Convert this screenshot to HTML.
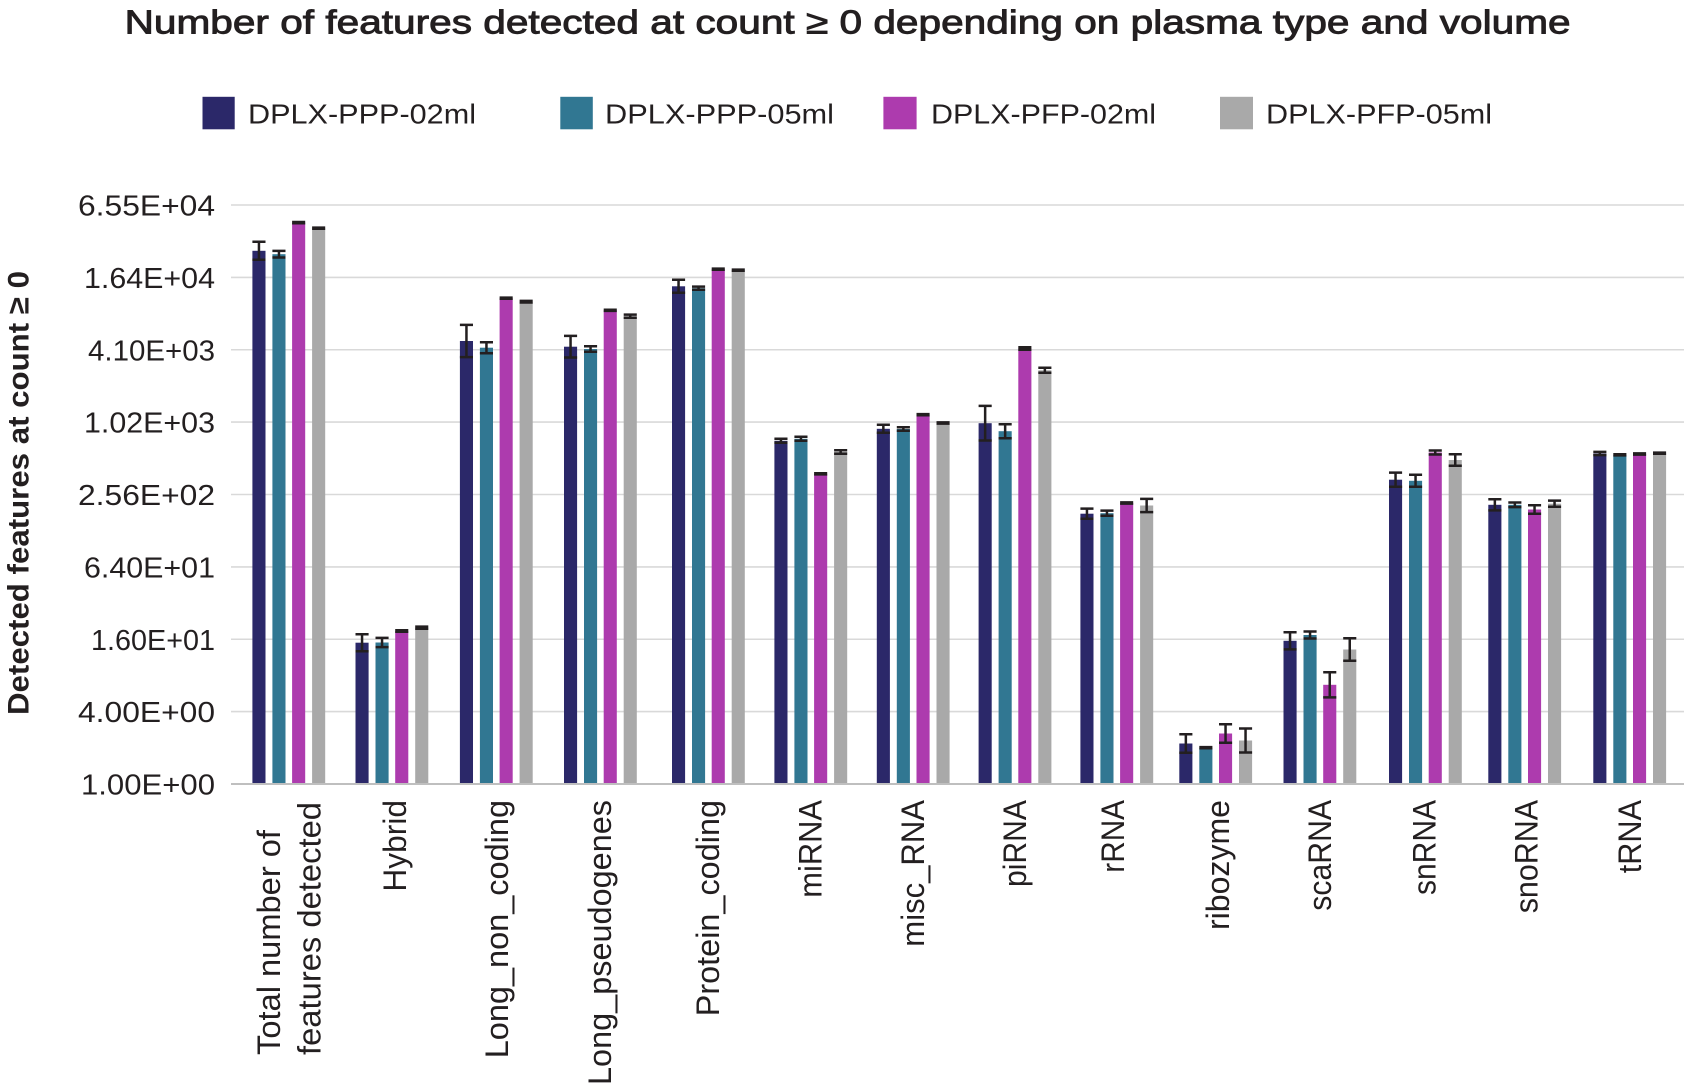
<!DOCTYPE html>
<html><head><meta charset="utf-8"><style>
html,body{margin:0;padding:0;background:#fff;}
svg{display:block;font-family:"Liberation Sans","DejaVu Sans",sans-serif;}
</style></head><body>
<svg width="1684" height="1089" viewBox="0 0 1684 1089" xmlns="http://www.w3.org/2000/svg">
<rect width="1684" height="1089" fill="#fff"/>
<text x="124.6" y="33.3" font-size="33.5" fill="#231f20" stroke="#231f20" stroke-width="0.9" textLength="1446" lengthAdjust="spacingAndGlyphs">Number of features detected at count ≥ 0 depending on plasma type and volume</text>
<g font-size="28" fill="#231f20">
<rect x="202.5" y="96.8" width="32.2" height="32.5" fill="#2b2869"/>
<text x="248" y="123.3" textLength="228" lengthAdjust="spacingAndGlyphs">DPLX-PPP-02ml</text>
<rect x="560.3" y="96.8" width="32.5" height="32.5" fill="#317792"/>
<text x="605" y="123.3" textLength="229" lengthAdjust="spacingAndGlyphs">DPLX-PPP-05ml</text>
<rect x="883.4" y="96.8" width="33.2" height="32.5" fill="#ad3bae"/>
<text x="931" y="123.3" textLength="225" lengthAdjust="spacingAndGlyphs">DPLX-PFP-02ml</text>
<rect x="1220" y="96.8" width="33" height="32.5" fill="#a9a9a9"/>
<text x="1266" y="123.3" textLength="226" lengthAdjust="spacingAndGlyphs">DPLX-PFP-05ml</text>
</g>
<g stroke="#d9d9d9" stroke-width="1.6">
<line x1="231" y1="205" x2="1684" y2="205"/>
<line x1="231" y1="277.4" x2="1684" y2="277.4"/>
<line x1="231" y1="349.75" x2="1684" y2="349.75"/>
<line x1="231" y1="422.1" x2="1684" y2="422.1"/>
<line x1="231" y1="494.5" x2="1684" y2="494.5"/>
<line x1="231" y1="566.9" x2="1684" y2="566.9"/>
<line x1="231" y1="639.25" x2="1684" y2="639.25"/>
<line x1="231" y1="711.6" x2="1684" y2="711.6"/>
</g>
<g font-size="29" fill="#231f20" text-anchor="end">
<text x="215" y="215.5" textLength="137" lengthAdjust="spacingAndGlyphs">6.55E+04</text>
<text x="215" y="287.9" textLength="131" lengthAdjust="spacingAndGlyphs">1.64E+04</text>
<text x="215" y="360.25" textLength="127" lengthAdjust="spacingAndGlyphs">4.10E+03</text>
<text x="215" y="432.6" textLength="131" lengthAdjust="spacingAndGlyphs">1.02E+03</text>
<text x="215" y="505" textLength="137" lengthAdjust="spacingAndGlyphs">2.56E+02</text>
<text x="215" y="577.4" textLength="131" lengthAdjust="spacingAndGlyphs">6.40E+01</text>
<text x="215" y="649.75" textLength="124" lengthAdjust="spacingAndGlyphs">1.60E+01</text>
<text x="215" y="722.1" textLength="137" lengthAdjust="spacingAndGlyphs">4.00E+00</text>
<text x="215" y="794.5" textLength="134" lengthAdjust="spacingAndGlyphs">1.00E+00</text>
</g>
<text transform="translate(28.3,493) rotate(-90)" text-anchor="middle" font-size="30" font-weight="bold" fill="#231f20" textLength="444" lengthAdjust="spacingAndGlyphs">Detected features at count ≥ 0</text>
<g fill="#2b2869">
<rect x="252.4" y="250.8" width="13.1" height="533.2"/>
<rect x="355.5" y="642.7" width="13.1" height="141.3"/>
<rect x="459.9" y="341" width="13.1" height="443"/>
<rect x="564" y="346.7" width="13.1" height="437.3"/>
<rect x="672" y="286.3" width="13.1" height="497.7"/>
<rect x="774.4" y="440.8" width="13.1" height="343.2"/>
<rect x="876.8" y="428.8" width="13.1" height="355.2"/>
<rect x="978.6" y="423.2" width="13.1" height="360.8"/>
<rect x="1080.4" y="513.7" width="13.1" height="270.3"/>
<rect x="1179.3" y="743.5" width="13.1" height="40.5"/>
<rect x="1283.5" y="640.8" width="13.1" height="143.2"/>
<rect x="1389" y="479.7" width="13.1" height="304.3"/>
<rect x="1488.3" y="504.8" width="13.1" height="279.2"/>
<rect x="1593.3" y="453.5" width="13.1" height="330.5"/>
</g>
<g fill="#317792">
<rect x="272.4" y="254.2" width="13.1" height="529.8"/>
<rect x="375.5" y="642.5" width="13.1" height="141.5"/>
<rect x="479.9" y="347.7" width="13.1" height="436.3"/>
<rect x="584" y="349" width="13.1" height="435"/>
<rect x="692" y="288.2" width="13.1" height="495.8"/>
<rect x="794.4" y="438.8" width="13.1" height="345.2"/>
<rect x="896.8" y="429" width="13.1" height="355"/>
<rect x="998.6" y="431.2" width="13.1" height="352.8"/>
<rect x="1100.4" y="513.2" width="13.1" height="270.8"/>
<rect x="1199.3" y="747.7" width="13.1" height="36.3"/>
<rect x="1303.5" y="635" width="13.1" height="149"/>
<rect x="1409" y="480.8" width="13.1" height="303.2"/>
<rect x="1508.3" y="504.8" width="13.1" height="279.2"/>
<rect x="1613.3" y="454.8" width="13.1" height="329.2"/>
</g>
<g fill="#ad3bae">
<rect x="292.1" y="222.6" width="13.1" height="561.4"/>
<rect x="395.2" y="631" width="13.1" height="153"/>
<rect x="499.6" y="298.2" width="13.1" height="485.8"/>
<rect x="603.7" y="310.3" width="13.1" height="473.7"/>
<rect x="711.7" y="269.2" width="13.1" height="514.8"/>
<rect x="814.1" y="473.8" width="13.1" height="310.2"/>
<rect x="916.5" y="414.7" width="13.1" height="369.3"/>
<rect x="1018.3" y="348.5" width="13.1" height="435.5"/>
<rect x="1120.1" y="503" width="13.1" height="281"/>
<rect x="1219" y="733.5" width="13.1" height="50.5"/>
<rect x="1323.2" y="684.8" width="13.1" height="99.2"/>
<rect x="1428.7" y="452.5" width="13.1" height="331.5"/>
<rect x="1528" y="509.5" width="13.1" height="274.5"/>
<rect x="1633" y="454" width="13.1" height="330"/>
</g>
<g fill="#a9a9a9">
<rect x="312.1" y="228.2" width="13.1" height="555.8"/>
<rect x="415.2" y="627.7" width="13.1" height="156.3"/>
<rect x="519.6" y="301.7" width="13.1" height="482.3"/>
<rect x="623.7" y="316.2" width="13.1" height="467.8"/>
<rect x="731.7" y="270.2" width="13.1" height="513.8"/>
<rect x="834.1" y="452" width="13.1" height="332"/>
<rect x="936.5" y="423" width="13.1" height="361"/>
<rect x="1038.3" y="370.3" width="13.1" height="413.7"/>
<rect x="1140.1" y="505.5" width="13.1" height="278.5"/>
<rect x="1239" y="740.5" width="13.1" height="43.5"/>
<rect x="1343.2" y="649.5" width="13.1" height="134.5"/>
<rect x="1448.7" y="460" width="13.1" height="324"/>
<rect x="1548" y="503.7" width="13.1" height="280.3"/>
<rect x="1653" y="453.2" width="13.1" height="330.8"/>
</g>
<g stroke="#231f20" stroke-width="2.5" fill="none">
<path d="M252.4 241.8h13.1M252.4 259.8h13.1M258.95 241.8V259.8"/>
<path d="M355.5 634.2h13.1M355.5 651.2h13.1M362.05 634.2V651.2"/>
<path d="M459.9 324.9h13.1M459.9 357.1h13.1M466.45 324.9V357.1"/>
<path d="M564 335.9h13.1M564 357.5h13.1M570.55 335.9V357.5"/>
<path d="M672 279.8h13.1M672 292.8h13.1M678.55 279.8V292.8"/>
<path d="M774.4 438.8h13.1M774.4 442.8h13.1M780.95 438.8V442.8"/>
<path d="M876.8 424.8h13.1M876.8 432.8h13.1M883.35 424.8V432.8"/>
<path d="M978.6 405.9h13.1M978.6 440.5h13.1M985.15 405.9V440.5"/>
<path d="M1080.4 508.6h13.1M1080.4 518.8h13.1M1086.95 508.6V518.8"/>
<path d="M1179.3 734.2h13.1M1179.3 752.8h13.1M1185.85 734.2V752.8"/>
<path d="M1283.5 632.2h13.1M1283.5 649.4h13.1M1290.05 632.2V649.4"/>
<path d="M1389 472.6h13.1M1389 486.8h13.1M1395.55 472.6V486.8"/>
<path d="M1488.3 499.2h13.1M1488.3 510.4h13.1M1494.85 499.2V510.4"/>
<path d="M1593.3 451.9h13.1M1593.3 455.1h13.1M1599.85 451.9V455.1"/>

<path d="M272.4 250.9h13.1M272.4 257.5h13.1M278.95 250.9V257.5"/>
<path d="M375.5 637.9h13.1M375.5 647.1h13.1M382.05 637.9V647.1"/>
<path d="M479.9 342.2h13.1M479.9 353.2h13.1M486.45 342.2V353.2"/>
<path d="M584 346.2h13.1M584 351.8h13.1M590.55 346.2V351.8"/>
<path d="M692 286.6h13.1M692 289.8h13.1M698.55 286.6V289.8"/>
<path d="M794.4 436.8h13.1M794.4 440.8h13.1M800.95 436.8V440.8"/>
<path d="M896.8 427.2h13.1M896.8 430.8h13.1M903.35 427.2V430.8"/>
<path d="M998.6 424.2h13.1M998.6 438.2h13.1M1005.15 424.2V438.2"/>
<path d="M1100.4 510.6h13.1M1100.4 515.8h13.1M1106.95 510.6V515.8"/>
<path d="M1199.3 747.1h13.1M1199.3 748.3h13.1M1205.85 747.1V748.3"/>
<path d="M1303.5 631.5h13.1M1303.5 638.5h13.1M1310.05 631.5V638.5"/>
<path d="M1409 474.8h13.1M1409 486.8h13.1M1415.55 474.8V486.8"/>
<path d="M1508.3 502.5h13.1M1508.3 507.1h13.1M1514.85 502.5V507.1"/>
<path d="M1613.3 454.2h13.1M1613.3 455.4h13.1M1619.85 454.2V455.4"/>

<path d="M292.1 222h13.1M292.1 223.2h13.1M298.65 222V223.2"/>
<path d="M395.2 630.2h13.1M395.2 631.8h13.1M401.75 630.2V631.8"/>
<path d="M499.6 297.6h13.1M499.6 298.8h13.1M506.15 297.6V298.8"/>
<path d="M603.7 309.7h13.1M603.7 310.9h13.1M610.25 309.7V310.9"/>
<path d="M711.7 268.6h13.1M711.7 269.8h13.1M718.25 268.6V269.8"/>
<path d="M814.1 473.2h13.1M814.1 474.4h13.1M820.65 473.2V474.4"/>
<path d="M916.5 414.1h13.1M916.5 415.3h13.1M923.05 414.1V415.3"/>
<path d="M1018.3 347.2h13.1M1018.3 349.8h13.1M1024.85 347.2V349.8"/>
<path d="M1120.1 502.4h13.1M1120.1 503.6h13.1M1126.65 502.4V503.6"/>
<path d="M1219 724.2h13.1M1219 742.8h13.1M1225.55 724.2V742.8"/>
<path d="M1323.2 672.2h13.1M1323.2 697.4h13.1M1329.75 672.2V697.4"/>
<path d="M1428.7 450.5h13.1M1428.7 454.5h13.1M1435.25 450.5V454.5"/>
<path d="M1528 505.2h13.1M1528 513.8h13.1M1534.55 505.2V513.8"/>
<path d="M1633 453.4h13.1M1633 454.6h13.1M1639.55 453.4V454.6"/>

<path d="M312.1 227.6h13.1M312.1 228.8h13.1M318.65 227.6V228.8"/>
<path d="M415.2 626.6h13.1M415.2 628.8h13.1M421.75 626.6V628.8"/>
<path d="M519.6 300.9h13.1M519.6 302.5h13.1M526.15 300.9V302.5"/>
<path d="M623.7 314.6h13.1M623.7 317.8h13.1M630.25 314.6V317.8"/>
<path d="M731.7 269.6h13.1M731.7 270.8h13.1M738.25 269.6V270.8"/>
<path d="M834.1 450.2h13.1M834.1 453.8h13.1M840.65 450.2V453.8"/>
<path d="M936.5 422.4h13.1M936.5 423.6h13.1M943.05 422.4V423.6"/>
<path d="M1038.3 367.8h13.1M1038.3 372.8h13.1M1044.85 367.8V372.8"/>
<path d="M1140.1 498.9h13.1M1140.1 512.1h13.1M1146.65 498.9V512.1"/>
<path d="M1239 728.5h13.1M1239 752.5h13.1M1245.55 728.5V752.5"/>
<path d="M1343.2 638.2h13.1M1343.2 660.8h13.1M1349.75 638.2V660.8"/>
<path d="M1448.7 454.2h13.1M1448.7 465.8h13.1M1455.25 454.2V465.8"/>
<path d="M1548 500.6h13.1M1548 506.8h13.1M1554.55 500.6V506.8"/>
<path d="M1653 452.6h13.1M1653 453.8h13.1M1659.55 452.6V453.8"/>
</g>
<line x1="231" y1="784" x2="1684" y2="784" stroke="#bfbfbf" stroke-width="2"/>
<g font-size="32" fill="#231f20">
<text transform="translate(280.2,1055) rotate(-90)" textLength="225" lengthAdjust="spacingAndGlyphs">Total number of</text>
<text transform="translate(320.5,1055) rotate(-90)" textLength="253" lengthAdjust="spacingAndGlyphs">features detected</text>
</g>
<g font-size="32" fill="#231f20" text-anchor="end">
<text transform="translate(406,800) rotate(-90)" textLength="91.6" lengthAdjust="spacingAndGlyphs">Hybrid</text>
<text transform="translate(508,800) rotate(-90)" textLength="258.3" lengthAdjust="spacingAndGlyphs">Long_non_coding</text>
<text transform="translate(611,800) rotate(-90)" textLength="285" lengthAdjust="spacingAndGlyphs">Long_pseudogenes</text>
<text transform="translate(719,800) rotate(-90)" textLength="216.3" lengthAdjust="spacingAndGlyphs">Protein_coding</text>
<text transform="translate(821.7,800) rotate(-90)" textLength="97.7" lengthAdjust="spacingAndGlyphs">miRNA</text>
<text transform="translate(924,800) rotate(-90)" textLength="146.7" lengthAdjust="spacingAndGlyphs">misc_RNA</text>
<text transform="translate(1026,800) rotate(-90)" textLength="87" lengthAdjust="spacingAndGlyphs">piRNA</text>
<text transform="translate(1124,800) rotate(-90)" textLength="72.7" lengthAdjust="spacingAndGlyphs">rRNA</text>
<text transform="translate(1229,800) rotate(-90)" textLength="130" lengthAdjust="spacingAndGlyphs">ribozyme</text>
<text transform="translate(1330.8,800) rotate(-90)" textLength="110.7" lengthAdjust="spacingAndGlyphs">scaRNA</text>
<text transform="translate(1435.6,800) rotate(-90)" textLength="95" lengthAdjust="spacingAndGlyphs">snRNA</text>
<text transform="translate(1537.3,800) rotate(-90)" textLength="113.3" lengthAdjust="spacingAndGlyphs">snoRNA</text>
<text transform="translate(1641,800) rotate(-90)" textLength="73.3" lengthAdjust="spacingAndGlyphs">tRNA</text>
</g>
</svg>
</body></html>
